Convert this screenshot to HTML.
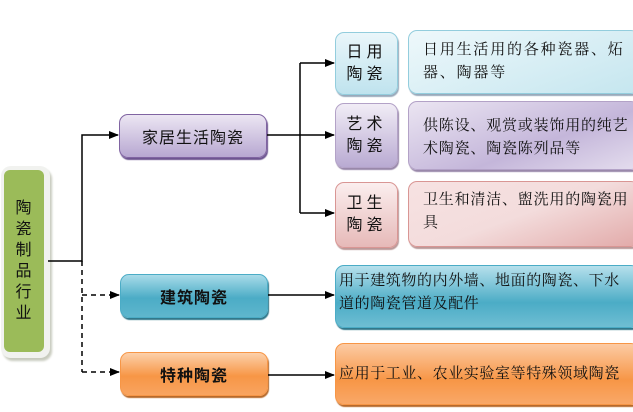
<!DOCTYPE html>
<html><head><meta charset="utf-8"><style>
body{margin:0;width:633px;height:412px;background:#fff;position:relative;overflow:hidden;font-family:"Liberation Serif","Noto Serif CJK SC",serif;color:#111}
.b{position:absolute;box-sizing:border-box;border-radius:9px}
.t{position:absolute;font-size:15px;line-height:23px;letter-spacing:1.8px;white-space:nowrap}
.n{font-family:"Liberation Sans","Noto Sans CJK SC",sans-serif;font-size:16px;display:flex;align-items:center;justify-content:center;letter-spacing:1px;white-space:nowrap}
</style></head><body>
<div class="b" style="left:1px;top:166px;width:49px;height:192px;background:#f1f2ef;border-radius:10px;box-shadow:2px 3px 2px #c8cbbe"></div>
<div class="b n" style="left:4px;top:170px;width:40px;height:182px;background:#9bbb59;border-radius:6px;flex-direction:column;line-height:21px;font-size:16px">陶<br>瓷<br>制<br>品<br>行<br>业</div>

<div class="b n" style="left:119px;top:114px;width:148px;height:44px;background:linear-gradient(#ece6f3,#b7a7d1);border:1px solid #8064a2;box-shadow:1px 2px 1px #6d5590">家居生活陶瓷</div>
<div class="b n" style="left:120px;top:274px;width:148px;height:44px;background:linear-gradient(#a9dbe9,#4bacc6 55%,#5fb6cd);border:1px solid #4bacc6;box-shadow:1px 2px 1px #31788b;font-weight:bold">建筑陶瓷</div>
<div class="b n" style="left:120px;top:352px;width:148px;height:44px;background:linear-gradient(#fcd0aa,#f79646 55%,#f8a460);border:1px solid #f79646;box-shadow:1px 2px 1px #b86a2b;font-weight:bold">特种陶瓷</div>

<div class="b n" style="left:335px;top:32px;width:63px;height:63px;background:linear-gradient(#eaf6fa,#bfe3ee);border:1px solid #93cddd;box-shadow:1px 2px 1px #9ab;flex-direction:column;line-height:22px;letter-spacing:4px">日用<br>陶瓷</div>
<div class="b n" style="left:335px;top:103px;width:63px;height:65px;background:linear-gradient(#f1edf6,#b9aad2);border:1px solid #b3a2c7;box-shadow:1px 2px 1px #98a;flex-direction:column;line-height:22px;letter-spacing:4px">艺术<br>陶瓷</div>
<div class="b n" style="left:335px;top:182px;width:63px;height:66px;background:linear-gradient(#fbeeee,#e6b9b8);border:1px solid #d99694;box-shadow:1px 2px 1px #b99;flex-direction:column;line-height:22px;letter-spacing:4px">卫生<br>陶瓷</div>

<div class="b" style="left:408px;top:30px;width:232px;height:64px;background:linear-gradient(160deg,#eef8fb,#c5e6ef);border:1px solid #93cddd;box-shadow:1px 2px 1px #9ab"></div>
<div class="t" style="left:423px;top:39px">日用生活用的各种瓷器、炻<br>器、陶器等</div>
<div class="b" style="left:408px;top:101px;width:232px;height:69px;background:linear-gradient(160deg,#ebe5f2,#c4b6da 60%,#e4ddee);border:1px solid #b3a2c7;box-shadow:1px 2px 1px #98a"></div>
<div class="t" style="left:423px;top:115px;letter-spacing:0.8px">供陈设、观赏或装饰用的纯艺<br>术陶瓷、陶瓷陈列品等</div>
<div class="b" style="left:408px;top:181px;width:232px;height:66px;background:linear-gradient(160deg,#f7e2e2,#f3dcdc 50%,#e2aaa9);border:1px solid #d99694;box-shadow:1px 2px 1px #b99"></div>
<div class="t" style="left:423px;top:189px;letter-spacing:0.8px">卫生和清洁、盥洗用的陶瓷用<br>具</div>

<div class="b" style="left:335px;top:265px;width:305px;height:63px;background:linear-gradient(#b6e0ec,#4bacc6 60%,#6fbed3);border:1px solid #4bacc6;box-shadow:1px 2px 1px #31788b"></div>
<div class="t" style="left:339px;top:270px;letter-spacing:0.6px">用于建筑物的内外墙、地面的陶瓷、下水<br>道的陶瓷管道及配件</div>
<div class="b" style="left:335px;top:343px;width:305px;height:62px;background:linear-gradient(#fccba4,#f79646 60%,#f9a868);border:1px solid #f79646;box-shadow:1px 2px 1px #b86a2b"></div>
<div class="t" style="left:339px;top:363px;letter-spacing:0.6px">应用于工业、农业实验室等特殊领域陶瓷</div>

<svg width="633" height="412" style="position:absolute;left:0;top:0">
<defs><marker id="a" markerWidth="10" markerHeight="8" refX="9" refY="4" orient="auto" markerUnits="userSpaceOnUse"><path d="M0,0L10,4L0,8z" fill="#000"/></marker></defs>
<g stroke="#000" stroke-width="1.5" fill="none">
<path d="M48,261H82V135H118" marker-end="url(#a)"/>
<path d="M82,261V372" stroke-dasharray="5,4"/>
<path d="M82,295H119" stroke-dasharray="5,4" marker-end="url(#a)"/>
<path d="M82,372H119" stroke-dasharray="5,4" marker-end="url(#a)"/>
<path d="M267,135H300"/>
<path d="M300,63V213"/>
<path d="M300,63H334" marker-end="url(#a)"/>
<path d="M300,135H334" marker-end="url(#a)"/>
<path d="M300,213H334" marker-end="url(#a)"/>
<path d="M268,295H334" marker-end="url(#a)"/>
<path d="M268,375H334" marker-end="url(#a)"/>
</g></svg>
</body></html>
